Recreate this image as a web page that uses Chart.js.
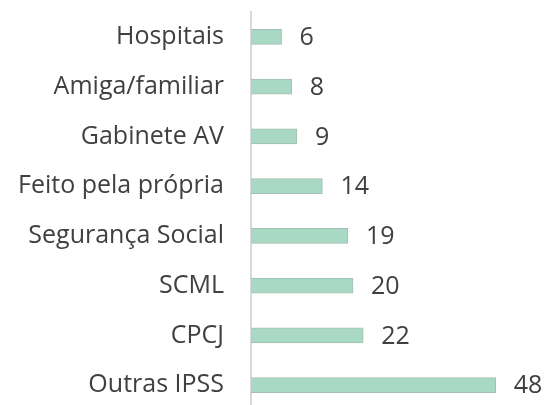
<!DOCTYPE html>
<html>
<head>
<meta charset="utf-8">
<script src="https://cdn.jsdelivr.net/npm/chart.js@4/dist/chart.umd.min.js"></script>
<style>
  html, body { margin: 0; padding: 0; background: #fff; overflow: hidden; }
  canvas { display: block; }
</style>
</head>
<body>
<canvas id="chart" width="546" height="410"></canvas>
<script>
// categories top to bottom, as in the picture
const categories = [
  "Hospitais",
  "Amiga/familiar",
  "Gabinete AV",
  "Feito pela própria",
  "Segurança Social",
  "SCML",
  "CPCJ",
  "Outras IPSS",
];
const counts = [6, 8, 9, 14, 19, 20, 22, 48];

const textColor = "#404040";
const barFill = "#a9d9c5";
const barEdge = "#a3bfb3";
const fontSize = 25;

// value labels to the right of each bar
const barValueLabels = {
  id: "barValueLabels",
  afterDatasetsDraw(chart) {
    const ctx = chart.ctx;
    const meta = chart.getDatasetMeta(0);
    ctx.save();
    ctx.font = `${fontSize}px 'Open Sans'`;
    ctx.fillStyle = textColor;
    ctx.textAlign = "left";
    ctx.textBaseline = "middle";
    meta.data.forEach((bar, i) => {
      ctx.fillText(String(counts[i]), bar.x + 18, bar.y + 1);
    });
    ctx.restore();
  },
};

new Chart(document.querySelector("#chart"), {
  type: "bar",
  data: {
    labels: categories,
    datasets: [{
      data: counts,
      backgroundColor: barFill,
      borderColor: barEdge,
      borderWidth: 1,
      borderSkipped: "start",
      barThickness: 15,
    }],
  },
  options: {
    indexAxis: "y",
    responsive: false,
    animation: false,
    layout: { padding: { top: 12, right: 40, bottom: 0, left: 0 } },
    plugins: { legend: { display: false }, tooltip: { enabled: false } },
    scales: {
      x: {
        display: false,
        min: 0,
        max: 50,
      },
      y: {
        grid: { display: false, drawTicks: false },
        border: { display: true, color: "#d9d9d9", width: 2 },
        ticks: {
          color: textColor,
          font: { family: "'Open Sans'", size: fontSize },
          padding: 27,
        },
        afterFit(scale) {
          scale.width = 251;
          scale.paddingTop = 0;
          scale.paddingBottom = 0;
        },
      },
    },
  },
  plugins: [barValueLabels],
});
</script>
</body>
</html>
